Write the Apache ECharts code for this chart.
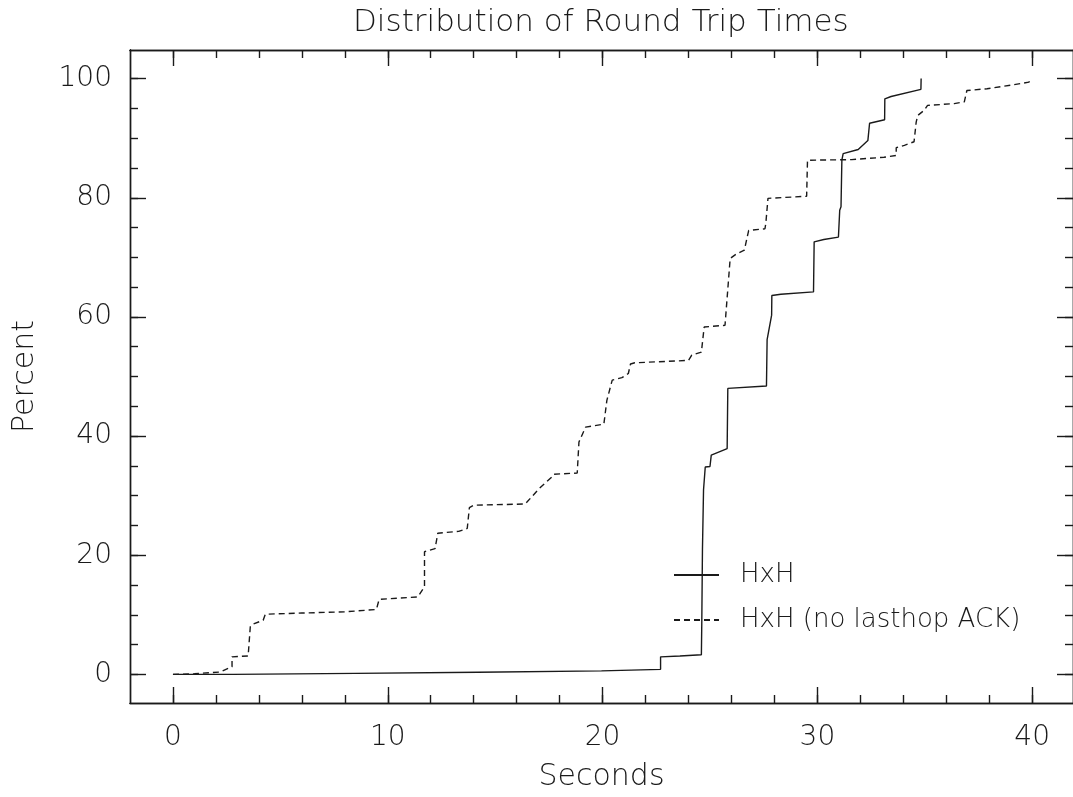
<!DOCTYPE html>
<html><head><meta charset="utf-8">
<script src="https://cdn.jsdelivr.net/npm/echarts@6/dist/echarts.min.js"></script>
<style>html,body{margin:0;padding:0;background:#fff}#c{width:1073px;height:797px}</style>
</head><body><div id="c"></div>
<script>
const titleText = 'Distribution of Round Trip Times';
const xName = 'Seconds';
const yName = 'Percent';
const seriesNames = ['HxH', 'HxH (no lasthop ACK)'];

const xMajorTicks = [0, 10, 20, 30, 40];
const xMinorTicks = [0, 2, 4, 6, 8, 10, 12, 14, 16, 18, 20, 22, 24, 26, 28, 30, 32, 34, 36, 38, 40];
const yMajorTicks = [0, 20, 40, 60, 80, 100];
const yMinorTicks = [0, 5, 10, 15, 20, 25, 30, 35, 40, 45, 50, 55, 60, 65, 70, 75, 80, 85, 90, 95, 100];

// HxH (solid)
const hxhX = [0, 2.8, 2.8, 8.5, 8.5, 14.2, 14.2, 19.95, 19.95, 22.7, 22.7, 23.6, 24.6, 24.62, 24.65, 24.7, 24.78, 25.0, 25.06, 25.8, 25.83, 27.63, 27.66, 27.87, 27.88, 28.3, 29.82, 29.85, 30.3, 30.98, 31.04, 31.1, 31.14, 31.2, 31.9, 32.35, 32.43, 33.13, 33.14, 33.43, 34.82, 34.83];
const hxhY = [0, 0, 0.18, 0.18, 0.36, 0.36, 0.6, 0.6, 0.85, 0.85, 2.95, 3.1, 3.3, 9, 21, 31, 34.8, 34.9, 36.8, 37.9, 48.0, 48.4, 56.2, 60.3, 63.6, 63.8, 64.2, 72.6, 73.0, 73.4, 77.9, 78.5, 86.3, 87.4, 88.1, 89.6, 92.5, 93.1, 96.6, 97.0, 98.2, 100];

// HxH (no lasthop ACK) (dashed)
const noAckX = [0, 1.0, 1.74, 2.2, 2.75, 2.75, 3.5, 3.6, 3.7, 4.2, 4.3, 6.0, 8.0, 9.47, 9.6, 11.4, 11.71, 11.71, 12.2, 12.33, 12.4, 13.3, 13.7, 13.8, 14.0, 16.4, 17.05, 17.66, 17.74, 18.82, 18.9, 19.21, 19.3, 20.06, 20.2, 20.45, 20.9, 21.2, 21.3, 21.5, 24.0, 24.15, 24.6, 24.73, 24.8, 25.7, 25.94, 26.24, 26.6, 26.8, 27.56, 27.6, 27.7, 29.5, 29.54, 31.6, 33.1, 33.67, 33.67, 34.05, 34.5, 34.6, 34.67, 34.98, 35.13, 36.37, 36.84, 36.96, 37.9, 39.0, 39.85, 39.93];
const noAckY = [0, 0.1, 0.3, 0.4, 1.3, 2.95, 3.1, 8.0, 8.4, 9.1, 10.1, 10.3, 10.5, 10.9, 12.6, 13.0, 14.7, 20.6, 21.1, 23.7, 23.8, 24.0, 24.5, 28.0, 28.4, 28.6, 31.2, 33.2, 33.6, 33.8, 39.0, 41.5, 41.7, 42.0, 46, 49.4, 49.8, 50.5, 52.1, 52.3, 52.7, 53.6, 54.1, 58.3, 58.6, 58.6, 69.8, 70.6, 71.2, 74.5, 74.8, 75.7, 79.9, 80.25, 86.3, 86.4, 86.8, 87.1, 88.4, 88.8, 89.4, 92.7, 93.8, 94.7, 95.5, 95.8, 96.1, 98.0, 98.3, 98.9, 99.4, 100];

const FONT = 'DejaVu Sans';
const FW = 200;
const INK = '#1a1a1a';
const lineSt = { color: INK, width: 1.4 };
const X_MIN = -2, X_MAX = 41.9, Y_MIN = -4.8, Y_MAX = 104.8;

function xAxisDef(pos, ticks, len, labels) {
  const a = {
    type: 'value', position: pos, min: X_MIN, max: X_MAX, gridIndex: 0,
    axisLine: { show: true, onZero: false, lineStyle: lineSt },
    axisTick: { show: true, inside: true, length: len, customValues: ticks, lineStyle: lineSt },
    axisLabel: { show: false },
    splitLine: { show: false }
  };
  if (labels) {
    a.axisLabel = { show: true, customValues: labels, margin: 21, fontSize: 28, fontWeight: FW, fontFamily: FONT, color: INK };
    a.name = xName; a.nameLocation = 'middle'; a.nameGap = 59;
    a.nameTextStyle = { fontSize: 30, fontWeight: FW, fontFamily: FONT, color: INK };
  }
  return a;
}
function yAxisDef(pos, ticks, len, labels) {
  const a = {
    type: 'value', position: pos, min: Y_MIN, max: Y_MAX, gridIndex: 0,
    axisLine: { show: true, onZero: false, lineStyle: lineSt },
    axisTick: { show: true, inside: true, length: len, customValues: ticks, lineStyle: lineSt },
    axisLabel: { show: false },
    splitLine: { show: false }
  };
  if (labels) {
    a.axisLabel = { show: true, customValues: labels, margin: 18, fontSize: 28, fontWeight: FW, fontFamily: FONT, color: INK };
    a.name = yName; a.nameLocation = 'middle'; a.nameGap = 90;
    a.nameTextStyle = { fontSize: 30, fontWeight: FW, fontFamily: FONT, color: INK };
  }
  return a;
}

const chart = echarts.init(document.getElementById('c'), null, { renderer: 'canvas' });
chart.setOption({
  backgroundColor: '#fff',
  animation: false,
  title: {
    text: titleText, left: 348, top: 2,
    textStyle: { fontSize: 31, fontWeight: FW, fontFamily: FONT, color: INK }
  },
  grid: { left: 130, right: -2, top: 50, bottom: 94, containLabel: false },
  legend: {
    orient: 'vertical', left: 668, top: 557, itemWidth: 45, itemHeight: 14, itemGap: 19,
    itemStyle: { color: 'rgba(0,0,0,0)', borderColor: 'rgba(0,0,0,0)', borderWidth: 0 },
    textStyle: { fontSize: 26, fontWeight: FW, fontFamily: FONT, color: INK, padding: [0, 0, 0, 16] },
    data: seriesNames
  },
  xAxis: [
    xAxisDef('bottom', xMinorTicks, 8, xMajorTicks),
    xAxisDef('bottom', xMajorTicks, 16, null),
    xAxisDef('top', xMinorTicks, 8, null),
    xAxisDef('top', xMajorTicks, 16, null)
  ],
  yAxis: [
    yAxisDef('left', yMinorTicks, 8, yMajorTicks),
    yAxisDef('left', yMajorTicks, 16, null),
    yAxisDef('right', yMinorTicks, 8, null),
    yAxisDef('right', yMajorTicks, 16, null)
  ],
  series: [
    {
      name: seriesNames[0], type: 'line', xAxisIndex: 0, yAxisIndex: 0,
      data: hxhX.map((x, i) => [x, hxhY[i]]),
      symbol: 'none', showSymbol: false,
      lineStyle: { color: INK, width: 1.4, type: 'solid' }, itemStyle: { color: INK }
    },
    {
      name: seriesNames[1], type: 'line', xAxisIndex: 0, yAxisIndex: 0,
      data: noAckX.map((x, i) => [x, noAckY[i]]),
      symbol: 'none', showSymbol: false,
      lineStyle: { color: INK, width: 1.4, type: [6, 4] }, itemStyle: { color: INK }
    }
  ]
});
</script></body></html>
